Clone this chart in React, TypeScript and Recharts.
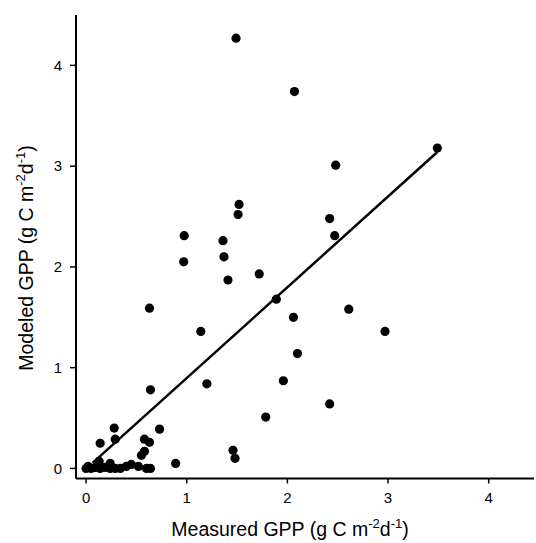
import React from 'react';
import { ScatterChart, Scatter, XAxis, YAxis, ReferenceLine } from 'recharts';

// measured vs modeled GPP (g C m-2 d-1)
const measured = [
  1.49, 2.07, 2.48, 3.49, 2.42, 2.47, 1.52, 1.51, 0.975, 0.97,
  1.36, 1.37, 1.41, 1.72, 1.89, 2.06, 0.63, 1.14, 2.10, 0.64,
  1.20, 1.96, 2.61, 2.97, 2.42, 1.785, 1.46, 1.48, 0.89,
  0.28, 0.73, 0.14, 0.29, 0.58, 0.63, 0.58, 0.55,
  0.0, 0.02, 0.05, 0.13, 0.14, 0.24, 0.24, 0.29, 0.34, 0.40, 0.45, 0.52, 0.60, 0.64, 0.19, 0.09,
];
const modeled = [
  4.27, 3.74, 3.01, 3.18, 2.48, 2.31, 2.62, 2.52, 2.31, 2.05,
  2.26, 2.10, 1.87, 1.93, 1.68, 1.50, 1.59, 1.36, 1.14, 0.78,
  0.84, 0.87, 1.58, 1.36, 0.64, 0.51, 0.18, 0.10, 0.05,
  0.40, 0.39, 0.25, 0.29, 0.29, 0.26, 0.17, 0.13,
  0.0, 0.02, 0.0, 0.07, 0.0, 0.05, 0.0, 0.0, 0.0, 0.02, 0.04, 0.02, 0.0, 0.0, 0.01, 0.01,
];
const points = measured.map((x, i) => ({ x, y: modeled[i] }));

// fitted regression line end points
const fitX = [0.065, 3.49];
const fitY = [0.055, 3.14];

const ticks = [0, 1, 2, 3, 4];
const font = "Arial, 'Liberation Sans', sans-serif";
const tickStyle = { fill: '#000', fontSize: 15, fontFamily: font };

const Dot = (p: any) => <circle cx={p.cx} cy={p.cy} r={4.6} fill="#000" />;

const Title = ({ tx, ty, rot }: { tx: number; ty: number; rot: number }) => (
  <text x={0} y={0} transform={`translate(${tx},${ty}) rotate(${rot})`} textAnchor="middle"
    fontSize={19.5} fontFamily={font} fill="#000">
    {rot === 0 ? 'Measured' : 'Modeled'} GPP (g C m<tspan dy={-8} fontSize={13}>-2</tspan>
    <tspan dy={8}>d</tspan><tspan dy={-8} fontSize={13}>-1</tspan>
    <tspan dy={8}>)</tspan>
  </text>
);

export default function App() {
  return (
    <div style={{ position: 'absolute', left: 0, top: 0, background: '#fff' }}>
      <ScatterChart width={536} height={543} margin={{ top: 15, right: 2, left: 0, bottom: 0 }}>
        <XAxis
          type="number" dataKey="x" domain={[-0.1, 4.45]} ticks={ticks} allowDataOverflow
          height={64.5} tick={tickStyle} tickSize={5} tickMargin={9}
          axisLine={{ stroke: '#000', strokeWidth: 2 }} tickLine={{ stroke: '#000', strokeWidth: 1.5 }}
          label={{ content: () => <Title tx={290} ty={536} rot={0} /> }}
        />
        <YAxis
          type="number" dataKey="y" domain={[-0.1, 4.5]} ticks={ticks} allowDataOverflow
          width={76} tick={tickStyle} tickSize={6} tickMargin={8}
          axisLine={{ stroke: '#000', strokeWidth: 2 }} tickLine={{ stroke: '#000', strokeWidth: 1.5 }}
          label={{ content: () => <Title tx={33} ty={258} rot={-90} /> }}
        />
        <ReferenceLine
          segment={[{ x: fitX[0], y: fitY[0] }, { x: fitX[1], y: fitY[1] }]}
          stroke="#000" strokeWidth={2.5} ifOverflow="visible"
        />
        <Scatter data={points} shape={Dot} isAnimationActive={false} />
      </ScatterChart>
    </div>
  );
}
